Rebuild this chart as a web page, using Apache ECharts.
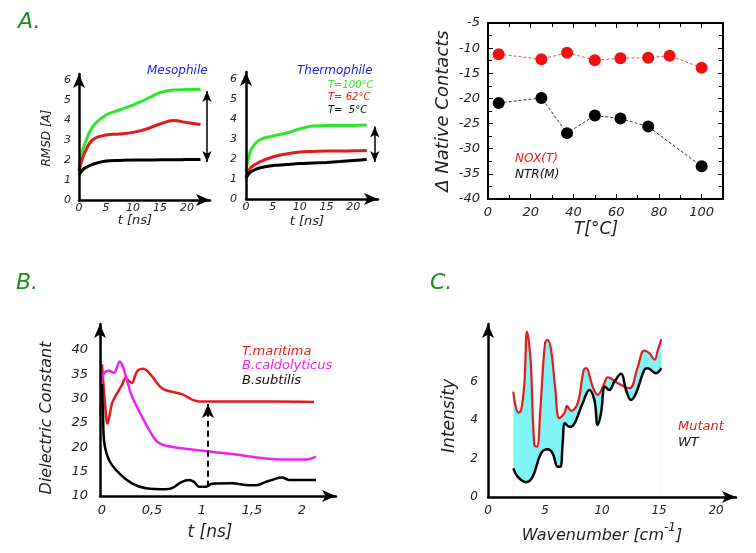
<!DOCTYPE html>
<html>
<head>
<meta charset="utf-8">
<script src="https://cdn.jsdelivr.net/npm/echarts@6/dist/echarts.min.js"></script>
<style>
  html, body { margin: 0; padding: 0; background: #fff; }
  #chart { width: 756px; height: 553px; }
</style>
</head>
<body>
<div id="chart"></div>
<script>
// ---------- data ----------
// A. RMSD vs time (ns)
const rmsdT = [0, 0.5, 1, 2.5, 5, 7.5, 10, 12.5, 15, 17.5, 20, 22.5]
const mesoHot = [1.5, 2.3, 2.75, 3.65, 4.25, 4.5, 4.75, 5.05, 5.37, 5.5, 5.52, 5.53]
const mesoMid = [1.45, 1.95, 2.33, 3.0, 3.25, 3.3, 3.38, 3.55, 3.8, 3.97, 3.87, 3.78]
const mesoCold = [1.25, 1.45, 1.58, 1.78, 1.95, 1.98, 2.0, 2.0, 2.01, 2.01, 2.02, 2.02]
const thermoHot = [1.4, 2.1, 2.5, 2.95, 3.15, 3.3, 3.5, 3.65, 3.67, 3.67, 3.68, 3.7]
const thermoMid = [1.1, 1.4, 1.6, 1.85, 2.1, 2.25, 2.35, 2.38, 2.4, 2.4, 2.41, 2.42]
const thermoCold = [1.05, 1.25, 1.38, 1.55, 1.67, 1.72, 1.77, 1.8, 1.83, 1.87, 1.92, 1.97]

// A. change of native contacts vs temperature
const noxT = [5, 25, 37, 50, 62, 75, 85, 100]
const noxVal = [-11.2, -12.2, -10.9, -12.4, -12.0, -11.9, -11.5, -13.9]
const ntrT = [5, 25, 37, 50, 62, 75, 100]
const ntrVal = [-20.9, -19.9, -26.9, -23.4, -24.0, -25.6, -33.5]

// B. dielectric constant vs time (ns)
const maritima = [[0, 37], [0.02, 31.5], [0.045, 25.6], [0.055, 24.9], [0.075, 26.5], [0.1, 29], [0.137, 30.6],
  [0.2, 32.8], [0.237, 34.2], [0.27, 33.6], [0.3, 33.2], [0.33, 34.6], [0.36, 35.8], [0.41, 36.1], [0.49, 34.8],
  [0.6, 32.1], [0.7, 31.4], [0.8, 30.9], [0.9, 29.8], [0.97, 29.4], [1.3, 29.4], [1.7, 29.4], [2.12, 29.3]]
const caldolyticus = [[0, 33.5], [0.02, 35.2], [0.07, 35.7], [0.12, 35.3], [0.15, 36.4], [0.177, 37.6], [0.2, 37],
  [0.22, 35.9], [0.26, 33], [0.3, 30.4], [0.4, 26.3], [0.49, 22.9], [0.55, 21.2], [0.64, 20.3], [0.97, 19.4],
  [1.3, 18.6], [1.64, 17.7], [1.8, 17.5], [2.04, 17.5], [2.14, 18.1]]
const subtilis = [[0, 33], [0.01, 27], [0.02, 21.4], [0.07, 17.4], [0.17, 14.7], [0.3, 12.6], [0.44, 11.6],
  [0.64, 11.4], [0.7, 11.6], [0.79, 12.8], [0.87, 13.3], [0.92, 12.9], [0.97, 11.9], [1.04, 11.9], [1.1, 12.5],
  [1.3, 12.6], [1.47, 12.2], [1.54, 12.2], [1.64, 12.9], [1.7, 13.3], [1.8, 13.8], [1.87, 13.3], [2.14, 13.3]]

// C. intensity vs wavenumber
const mutant = [[2.22, 5.48], [2.66, 4.39], [2.9, 4.5], [3.19, 5.92], [3.42, 8.61], [3.6, 8.0], [3.77, 6.79],
  [4.06, 2.71], [4.3, 2.62], [4.59, 4.53], [5.0, 8.0], [5.23, 8.18], [5.53, 7.66], [5.88, 5.74], [6.26, 4.1],
  [6.7, 4.36], [6.93, 4.74], [7.28, 4.48], [7.87, 4.88], [8.39, 6.61], [8.6, 6.7], [9.18, 5.74], [9.62, 5.31],
  [10.2, 5.92], [10.5, 6.23], [11.4, 5.92], [12.4, 5.66], [13.1, 6.7], [13.7, 7.62], [14.15, 7.48], [14.6, 7.14],
  [14.9, 7.66], [15.2, 8.21]]
const wildType = [[2.22, 1.49], [2.6, 1.06], [3.33, 0.77], [3.92, 1.06], [4.65, 2.27], [5.23, 2.48], [5.67, 2.27],
  [6.11, 1.58], [6.35, 1.58], [6.55, 2.8], [6.75, 3.84], [7.13, 3.66], [7.43, 3.7], [8.3, 4.88], [8.89, 5.57],
  [9.33, 5.05], [9.62, 3.75], [9.91, 4.36], [10.26, 5.74], [10.64, 5.57], [11.08, 6.0], [11.67, 6.41], [12.1, 5.57],
  [12.54, 5.05], [12.98, 5.4], [13.7, 6.61], [14.0, 6.7], [14.74, 6.44], [15.2, 6.7]]

// ---------- styles ----------
const FONT = '"DejaVu Sans", sans-serif'
const GREEN = '#2ee62e'
const RED = '#e31b1b'
const MAGENTA = '#ee22ee'

const zip = (xs, ys) => xs.map((x, i) => [x, ys[i]])

const labelStyle = (size, extra) => Object.assign({
  fontFamily: FONT, fontStyle: 'italic', fontSize: size, color: '#222'
}, extra || {})

// axis drawn as a thick line ending in an arrow, no ticks
function arrowAxis(gridIndex, min, max, interval, label) {
  const axis = {
    type: 'value', gridIndex, min, max, z: 4,
    axisLine: {
      onZero: false,
      symbol: ['none', 'arrow'],
      symbolSize: [9, 14],
      lineStyle: { color: '#000', width: 2.5 }
    },
    axisTick: { show: false },
    splitLine: { show: false },
    axisLabel: label
  }
  if (interval) axis.interval = interval
  return axis
}

// gnuplot-like framed axis with inside ticks
function boxAxis(gridIndex, position, min, max, interval, label) {
  return {
    type: 'value', gridIndex, position, min, max, interval,
    axisLine: { onZero: false, lineStyle: { color: '#000', width: 2 } },
    axisTick: { inside: true, length: 5, lineStyle: { color: '#000', width: 1 } },
    minorTick: { show: true, splitNumber: 2, length: 4, lineStyle: { color: '#000', width: 1 } },
    splitLine: { show: false },
    axisLabel: label || { show: false }
  }
}

function text(x, y, str, size, color) {
  return {
    type: 'text', x, y, silent: true,
    style: {
      text: str, fill: color || '#222',
      font: 'italic ' + size + 'px ' + FONT,
      align: 'left', verticalAlign: 'middle',
      textAlign: 'left', textVerticalAlign: 'middle'
    }
  }
}
function vtext(x, y, str, size) {
  return {
    type: 'text', x, y, rotation: Math.PI / 2, silent: true,
    style: {
      text: str, fill: '#222',
      font: 'italic ' + size + 'px ' + FONT,
      align: 'center', verticalAlign: 'middle',
      textAlign: 'center', textVerticalAlign: 'middle'
    }
  }
}
function ctext(x, y, str, size) {
  const t = text(x, y, str, size, '#222')
  t.style.align = t.style.textAlign = 'center'
  return t
}

const upTo = (limit, step) => v => (v <= limit + 1e-9 && Math.abs(v / step - Math.round(v / step)) < 1e-6) ? v : ''

function curve(xi, yi, data, color, width, extra) {
  return Object.assign({
    type: 'line', xAxisIndex: xi, yAxisIndex: yi, data,
    smooth: 0.4, showSymbol: false, silent: true,
    lineStyle: { color, width }
  }, extra || {})
}

function twoHeaded(x, y1, y2) {
  return {
    silent: true, symbol: ['arrow', 'arrow'], symbolSize: [7, 11],
    label: { show: false },
    lineStyle: { color: '#000', width: 1.5, type: 'solid' },
    data: [[{ coord: [x, y1] }, { coord: [x, y2] }]]
  }
}

// ---------- chart ----------
const chart = echarts.init(document.getElementById('chart'))

const option = {
  animation: false,
  backgroundColor: '#fff',
  grid: [
    { left: 79, top: 74, width: 131, height: 126 },   // mesophile
    { left: 246, top: 72, width: 132, height: 127 },  // thermophile
    { left: 488, top: 23, width: 235, height: 176 },  // native contacts
    { left: 100, top: 324, width: 236, height: 172 }, // dielectric
    { left: 488, top: 324, width: 248, height: 173 }  // intensity
  ],
  xAxis: [
    arrowAxis(0, 0, 24.26, 5, labelStyle(11, { margin: 3, formatter: upTo(20, 5) })),
    arrowAxis(1, 0, 24.6, 5, labelStyle(11, { margin: 3, formatter: upTo(20, 5) })),
    boxAxis(2, 'bottom', 0, 110, 20, labelStyle(13, { margin: 7, formatter: upTo(100, 20) })),
    boxAxis(2, 'top', 0, 110, 20),
    arrowAxis(3, -0.02, 2.34, 0, labelStyle(13, {
      margin: 8, customValues: [0, 0.5, 1, 1.5, 2],
      formatter: v => String(v).replace('.', ',')
    })),
    arrowAxis(4, 0, 21.75, 5, labelStyle(12, { margin: 8, formatter: upTo(20, 5) }))
  ],
  yAxis: [
    arrowAxis(0, 0, 6.3, 1, labelStyle(11, { margin: 8, formatter: upTo(6, 1) })),
    arrowAxis(1, 0, 6.35, 1, labelStyle(11, { margin: 9, formatter: upTo(6, 1) })),
    boxAxis(2, 'left', -40, -5, 5, labelStyle(13, { margin: 8 })),
    boxAxis(2, 'right', -40, -5, 5),
    arrowAxis(3, 10, 45.3, 5, labelStyle(13, { margin: 12, formatter: upTo(40, 5) })),
    arrowAxis(4, 0, 9, 2, labelStyle(12, { margin: 10, formatter: upTo(6, 2) }))
  ],
  series: [
    // A. mesophile
    curve(0, 0, zip(rmsdT, mesoHot), GREEN, 3),
    curve(0, 0, zip(rmsdT, mesoMid), RED, 3),
    curve(0, 0, zip(rmsdT, mesoCold), '#000', 3, { markLine: twoHeaded(23.7, 5.45, 1.9) }),
    // A. thermophile
    curve(1, 1, zip(rmsdT, thermoHot), GREEN, 3),
    curve(1, 1, zip(rmsdT, thermoMid), RED, 3),
    curve(1, 1, zip(rmsdT, thermoCold), '#000', 3, { markLine: twoHeaded(24.0, 3.62, 1.85) }),
    // A. native contacts
    {
      type: 'line', xAxisIndex: 2, yAxisIndex: 2, data: zip(noxT, noxVal), silent: true,
      symbol: 'circle', symbolSize: 12, itemStyle: { color: '#f01010' },
      lineStyle: { color: '#f05050', width: 1, type: [3, 2] }
    },
    {
      type: 'line', xAxisIndex: 2, yAxisIndex: 2, data: zip(ntrT, ntrVal), silent: true,
      symbol: 'circle', symbolSize: 12, itemStyle: { color: '#000' },
      lineStyle: { color: '#333', width: 1, type: [3, 2] }
    },
    // B. dielectric constant
    curve(4, 4, maritima, RED, 2.5),
    curve(4, 4, caldolyticus, MAGENTA, 2.5),
    curve(4, 4, subtilis, '#000', 2.5, {
      markLine: {
        silent: true, symbol: ['none', 'arrow'], symbolSize: [9, 14],
        label: { show: false },
        lineStyle: { color: '#000', width: 2, type: [6, 4] },
        data: [[{ coord: [1.06, 11.9] }, { coord: [1.06, 28.9] }]]
      }
    }),
    // C. spectra: cyan band between mutant and WT
    curve(5, 5, mutant, RED, 0, { areaStyle: { color: '#80f4f4', opacity: 1 }, z: 1 }),
    curve(5, 5, wildType, '#fff', 0, { areaStyle: { color: '#fff', opacity: 1 }, z: 1 }),
    curve(5, 5, mutant, RED, 2.2, { z: 3 }),
    curve(5, 5, wildType, '#000', 2.5, { z: 3 })
  ],
  graphic: [
    // panel letters
    text(18, 22, 'A.', 22, '#1e8c1e'),
    text(16, 283, 'B.', 22, '#1e8c1e'),
    text(430, 283, 'C.', 22, '#1e8c1e'),
    // A. RMSD panels
    text(147, 71, 'Mesophile', 12, '#2222dd'),
    text(297, 71, 'Thermophile', 12, '#2222dd'),
    text(328, 85, 'T=100°C', 10, GREEN),
    text(328, 97, 'T= 62°C', 10, RED),
    text(328, 110, 'T=  5°C', 10, '#111'),
    vtext(47, 138, 'RMSD [A]', 12),
    ctext(135, 221, 't [ns]', 13),
    ctext(307, 222, 't [ns]', 13),
    // A. native contacts
    vtext(443, 111, 'Δ Native Contacts', 18),
    ctext(596, 230, 'T[°C]', 17),
    text(515, 159, 'NOX(T)', 12, RED),
    text(515, 175, 'NTR(M)', 12, '#111'),
    // B
    vtext(47, 418, 'Dielectric Constant', 16),
    ctext(210, 533, 't [ns]', 17),
    text(242, 352, 'T.maritima', 13, RED),
    text(242, 366, 'B.caldolyticus', 13, MAGENTA),
    text(242, 381, 'B.subtilis', 13, '#111'),
    // C
    vtext(450, 416, 'Intensity', 17),
    {
      type: 'text', x: 602, y: 533, silent: true,
      style: {
        text: '{m|Wavenumber [cm}{s|-1}{m|]}',
        align: 'center', verticalAlign: 'middle', textAlign: 'center', textVerticalAlign: 'middle',
        rich: {
          m: { fontFamily: FONT, fontStyle: 'italic', fontSize: 16, fill: '#222', color: '#222', lineHeight: 22, verticalAlign: 'bottom' },
          s: { fontFamily: FONT, fontStyle: 'italic', fontSize: 12, fill: '#222', color: '#222', lineHeight: 22, verticalAlign: 'top' }
        }
      }
    },
    text(678, 427, 'Mutant', 13, RED),
    text(678, 443, 'WT', 13, '#111')
  ]
}

chart.setOption(option)
</script>
</body>
</html>
